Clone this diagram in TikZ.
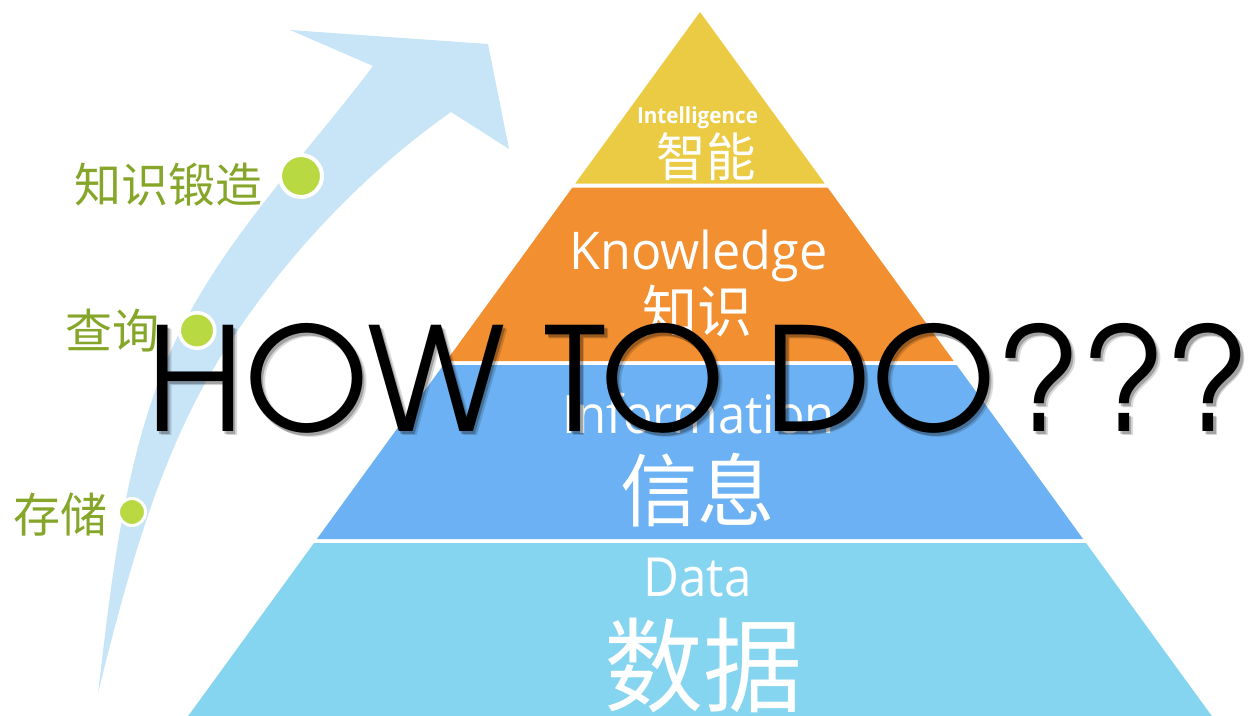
\documentclass[tikz,border=0pt]{standalone}
\usepackage{fontspec}
\usepackage{graphicx}
\newfontfamily\cjk{Noto Sans CJK SC}
\newfontfamily\lat{Open Sans}
\IfFontExistsTF{texgyreadventor-regular.otf}{\newfontfamily\howfont{texgyreadventor-regular.otf}}{%
  \IfFontExistsTF{Poppins Light}{\newfontfamily\howfont{Poppins Light}}{\newfontfamily\howfont{Poppins}}}
\definecolor{cY}{HTML}{EBCA44}
\definecolor{cO}{HTML}{F28F31}
\definecolor{cB}{HTML}{6BB1F3}
\definecolor{cC}{HTML}{85D4F0}
\definecolor{cArrow}{HTML}{C8E5F8}
\definecolor{cDot}{HTML}{B8D942}
\definecolor{cLab}{HTML}{86A62A}
\newcommand\fitbox[3]{\resizebox*{#1}{#2}{#3}}
\begin{document}
\begin{tikzpicture}[x=1pt,y=-1pt,
  ptext/.style={inner sep=0pt,text=white},
  lab/.style={inner sep=0pt,text=cLab,font=\cjk\fontsize{47}{47}\selectfont},
  dot/.style={circle,fill=cDot,draw=white,inner sep=0pt},
  howtext/.style={anchor=south west,inner sep=0pt,text=black}]
\useasboundingbox (0,0) rectangle (1253,715);
% curved arrow
\fill[cArrow] (98,693) .. controls (111.8,577.8) and (124,459.5) .. (170,353)
  .. controls (216.4,245.6) and (302.6,159.5) .. (373,66)
  -- (290,30) -- (488,44) -- (509,149) -- (451,112)
  .. controls (361,175.5) and (282,260) .. (223,353)
  .. controls (158.7,454.3) and (127.2,576.6) .. (98,693) -- cycle;
% pyramid layers
\fill[cY] (700,12) -- (824.7,183.5) -- (575.3,183.5) -- cycle;
\fill[cO] (572.4,187.5) -- (827.6,187.5) -- (953.7,361) -- (446.3,361) -- cycle;
\fill[cB] (443.4,365) -- (956.6,365) -- (1083.1,539) -- (316.9,539) -- cycle;
\fill[cC] (314,543) -- (1086,543) -- (1214,719) -- (186,719) -- cycle;
% pyramid texts
\node[ptext] (intel) at (697.5,117.5) {\fitbox{121pt}{22pt}{\lat\bfseries Intelligence}};
\node[ptext] (zhineng) at (706,156.5) {\fitbox{99pt}{48pt}{\cjk 智能}};
\node[ptext] (know) at (698.5,256) {\fitbox{258pt}{52pt}{\lat Knowledge}};
\node[ptext] (zhishi) at (697,311) {\fitbox{110pt}{52pt}{\cjk 知识}};
\node[ptext] (info) at (699,414) {\fitbox{272pt}{41pt}{\lat Information}};
\node[ptext] (xinxi) at (697.5,490) {\fitbox{155pt}{74pt}{\cjk 信息}};
\node[ptext] (data) at (697.5,577.5) {\fitbox{108pt}{39pt}{\lat Data}};
\node[ptext] (shuju) at (703.5,665.5) {\fitbox{198pt}{95pt}{\cjk 数据}};
% green dots and labels
\node[dot,minimum size=42pt,line width=4pt] (d1) at (301,176) {};
\node[dot,minimum size=35.5pt,line width=3.5pt] (d2) at (197,330.5) {};
\node[dot,minimum size=27pt,line width=3pt] (d3) at (132,512) {};
\node[lab] (l1) at (168.5,185) {知识锻造};
\node[lab] (l2) at (112,331) {查询};
\node[lab] (l3) at (60,515) {存储};
% HOW TO DO???
\node[howtext,opacity=0.15] (howsh2) at (150,438) {\fitbox{1104pt}{110pt}{\howfont HOW TO DO???}};
\node[howtext,opacity=0.25] (howsh) at (148.5,436.5) {\fitbox{1104pt}{110pt}{\howfont HOW TO DO???}};
\node[howtext] (how) at (146,434) {\fitbox{1104pt}{110pt}{\howfont HOW TO DO???}};
\end{tikzpicture}
\end{document}
